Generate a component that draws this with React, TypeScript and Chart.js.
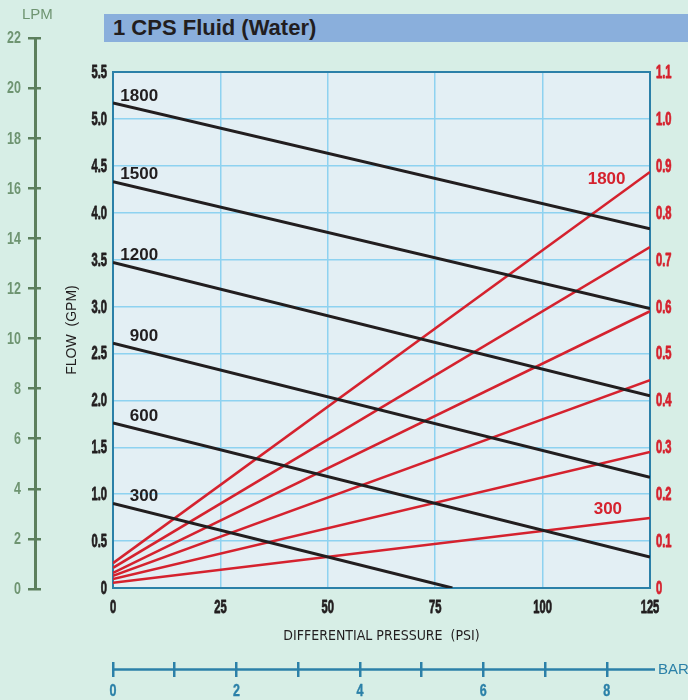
import React, { useEffect, useRef } from 'react';
import { Chart, registerables } from 'chart.js';

Chart.register(...registerables);

// ---------- data ----------
const PSI = [0, 125];
const PSI_300 = [0, 79];
const SPEEDS = ['1800', '1500', '1200', '900', '600', '300'];

// flow (GPM) vs differential pressure (PSI)
const FLOW_1800 = [5.17, 3.83];
const FLOW_1500 = [4.33, 2.98];
const FLOW_1200 = [3.47, 2.05];
const FLOW_900 = [2.61, 1.18];
const FLOW_600 = [1.76, 0.33];
const FLOW_300 = [0.9, 0];

// power (right axis) vs differential pressure (PSI)
const HP_1800 = [0.053, 0.887];
const HP_1500 = [0.043, 0.727];
const HP_1200 = [0.032, 0.59];
const HP_900 = [0.026, 0.443];
const HP_600 = [0.019, 0.29];
const HP_300 = [0.011, 0.149];

const RED_LABELS = ['1800', '300'];
const RED_LABEL_PSI = [119.3, 118.5];
const RED_LABEL_HP = [0.872, 0.168];
const BLACK_LABEL_PSI = 10.5;

const PSI_MAX = 125;
const GPM_MAX = 5.5;
const HP_MAX = 1.1;
const LPM_MAX = 22;
const BAR_MAX = 8.7;

// ---------- style ----------
const PAGE_BG = '#d7eee6';
const PLOT_BG = '#e3eff4';
const GRID = '#8ed2f0';
const TEAL = '#2b80a8';
const DARK = '#221e1f';
const RED = '#d5222e';
const GREEN_LINE = '#5c7f5d';
const GREEN_TEXT = '#6e9471';
const SANS = "'Liberation Sans', Arial, sans-serif";
const COND = "'DejaVu Sans Condensed', 'Liberation Sans', sans-serif";

const flowSets = [FLOW_1800, FLOW_1500, FLOW_1200, FLOW_900, FLOW_600, FLOW_300];
const hpSets = [HP_1800, HP_1500, HP_1200, HP_900, HP_600, HP_300];

const fmt1 = (v: number) => (v === 0 ? '0' : Number(v).toFixed(1));
const fmtInt = (v: number) => String(Math.round(v));
const fmtEven = (v: number) => (Math.round(v) % 2 === 0 ? String(Math.round(v)) : '');

// condensed tick label drawing (narrow display face as in the original print)
type TickStyle = {
  font: string;
  color: string;
  sx: number;
  heavy: number;
  align: CanvasTextAlign;
  fmt: (v: number) => string;
  pos: (scale: any, px: number) => [number, number];
};

function drawCondensedTicks(chart: any, styles: Record<string, TickStyle>) {
  const { ctx } = chart;
  Object.keys(styles).forEach((id) => {
    const scale = chart.scales[id];
    if (!scale) return;
    const st = styles[id];
    ctx.save();
    ctx.font = st.font;
    ctx.fillStyle = st.color;
    ctx.strokeStyle = st.color;
    ctx.lineWidth = st.heavy;
    ctx.lineJoin = 'round';
    ctx.textAlign = st.align;
    ctx.textBaseline = 'middle';
    scale.ticks.forEach((t: any) => {
      const txt = st.fmt(t.value);
      if (!txt) return;
      const [x, y] = st.pos(scale, scale.getPixelForValue(t.value));
      ctx.save();
      ctx.translate(x, y);
      ctx.scale(st.sx, 1);
      ctx.fillText(txt, 0, 0);
      if (st.heavy > 0) ctx.strokeText(txt, 0, 0);
      ctx.restore();
    });
    ctx.restore();
  });
}

const MAIN_TICKS: Record<string, TickStyle> = {
  y: {
    font: `bold 18px ${SANS}`, color: DARK, sx: 0.62, heavy: 0.8, align: 'right', fmt: fmt1,
    pos: (s, p) => [s.right - 6, p + 1],
  },
  y2: {
    font: `bold 18px ${SANS}`, color: RED, sx: 0.62, heavy: 0.8, align: 'left', fmt: fmt1,
    pos: (s, p) => [s.left + 6, p + 1],
  },
  x: {
    font: `bold 18px ${SANS}`, color: DARK, sx: 0.62, heavy: 0.8, align: 'center', fmt: fmtInt,
    pos: (s, p) => [p, s.top + 20],
  },
  x2: {
    font: `bold 16px ${SANS}`, color: TEAL, sx: 0.78, heavy: 0.4, align: 'center', fmt: fmtEven,
    pos: (s, p) => [p, s.top + 30],
  },
};

const LPM_TICKS: Record<string, TickStyle> = {
  y: {
    font: `bold 16px ${SANS}`, color: GREEN_TEXT, sx: 0.78, heavy: 0, align: 'right', fmt: fmtInt,
    pos: (s, p) => [s.right - 14, p + 1],
  },
};

export default function App() {
  const mainRef = useRef<HTMLCanvasElement>(null);
  const lpmRef = useRef<HTMLCanvasElement>(null);

  useEffect(() => {
    document.body.style.margin = '0';
    document.body.style.background = PAGE_BG;

    const datasets: any[] = [];
    flowSets.forEach((vals, i) => {
      const xs = i === 5 ? PSI_300 : PSI;
      datasets.push({
        label: SPEEDS[i] + ' GPM',
        data: xs.map((x, j) => ({ x, y: vals[j] })),
        borderColor: DARK,
        borderWidth: 3,
        pointRadius: 0,
        yAxisID: 'y',
        xAxisID: 'x',
      });
    });
    hpSets.forEach((vals, i) => {
      datasets.push({
        label: SPEEDS[i] + ' HP',
        data: PSI.map((x, j) => ({ x, y: vals[j] })),
        borderColor: RED,
        borderWidth: 2.5,
        pointRadius: 0,
        yAxisID: 'y2',
        xAxisID: 'x',
      });
    });

    const framePlugin = {
      id: 'framePlugin',
      beforeDraw(chart: any) {
        const { ctx, chartArea } = chart;
        const { left, top, right, bottom } = chartArea;
        ctx.save();
        ctx.fillStyle = PLOT_BG;
        ctx.fillRect(left, top, right - left, bottom - top);
        ctx.restore();
      },
      beforeDatasetsDraw(chart: any) {
        const { ctx, chartArea } = chart;
        const { left, top, right, bottom } = chartArea;
        ctx.save();
        ctx.strokeStyle = TEAL;
        ctx.lineWidth = 2;
        ctx.strokeRect(left, top, right - left, bottom - top);
        ctx.restore();
      },
      afterDatasetsDraw(chart: any) {
        const { ctx } = chart;
        const xs = chart.scales.x;
        const ys = chart.scales.y;
        const y2 = chart.scales.y2;
        ctx.save();
        ctx.font = `bold 17px ${SANS}`;
        ctx.textBaseline = 'middle';
        ctx.textAlign = 'right';
        ctx.fillStyle = DARK;
        flowSets.forEach((vals, i) => {
          ctx.fillText(SPEEDS[i], xs.getPixelForValue(BLACK_LABEL_PSI), ys.getPixelForValue(vals[0]) - 7);
        });
        ctx.fillStyle = RED;
        RED_LABELS.forEach((t, i) => {
          ctx.fillText(t, xs.getPixelForValue(RED_LABEL_PSI[i]), y2.getPixelForValue(RED_LABEL_HP[i]));
        });
        ctx.restore();
      },
      afterDraw(chart: any) {
        const { ctx } = chart;
        const b = chart.scales.x2;
        const yLine = b.top + 7.5;
        ctx.save();
        ctx.strokeStyle = TEAL;
        ctx.lineWidth = 2.5;
        ctx.beginPath();
        ctx.moveTo(b.getPixelForValue(0), yLine);
        ctx.lineTo(b.right + 5, yLine);
        ctx.stroke();
        ctx.fillStyle = TEAL;
        ctx.font = `15px ${SANS}`;
        ctx.textAlign = 'left';
        ctx.textBaseline = 'middle';
        ctx.fillText('BAR', b.right + 8, yLine);
        ctx.restore();
        drawCondensedTicks(chart, MAIN_TICKS);
      },
    };

    const main = new Chart(mainRef.current as HTMLCanvasElement, {
      type: 'line',
      data: { datasets },
      plugins: [framePlugin],
      options: {
        animation: false,
        responsive: false,
        maintainAspectRatio: false,
        layout: { padding: { left: 58, top: 72, right: 0, bottom: 0 } },
        plugins: { legend: { display: false }, tooltip: { enabled: false } },
        elements: { point: { radius: 0 }, line: { tension: 0 } },
        scales: {
          x: {
            type: 'linear',
            position: 'bottom',
            weight: 0,
            min: 0,
            max: PSI_MAX,
            ticks: { stepSize: 25, autoSkip: false, display: false },
            grid: { color: GRID, lineWidth: 1.5, drawTicks: false },
            border: { display: false },
            title: {
              display: true,
              text: 'DIFFERENTIAL PRESSURE  (PSI)',
              color: DARK,
              font: { family: COND, size: 14 },
              padding: { top: 17, bottom: 17 },
            },
            afterFit: (s: any) => {
              s.height = 74;
            },
          },
          x2: {
            type: 'linear',
            position: 'bottom',
            weight: 1,
            min: 0,
            max: BAR_MAX,
            ticks: { stepSize: 1, autoSkip: false, includeBounds: false, display: false },
            grid: { drawOnChartArea: false, drawTicks: true, tickLength: 15, color: TEAL, lineWidth: 2.5 },
            border: { display: false },
            afterFit: (s: any) => {
              s.height = 38;
            },
          },
          y: {
            type: 'linear',
            position: 'left',
            min: 0,
            max: GPM_MAX,
            ticks: { stepSize: 0.5, autoSkip: false, display: false },
            grid: { color: GRID, lineWidth: 1.5, drawTicks: false },
            border: { display: false },
            title: {
              display: true,
              text: 'FLOW  (GPM)',
              color: DARK,
              font: { family: SANS, size: 14 },
              padding: { top: 6, bottom: 0 },
            },
            afterFit: (s: any) => {
              s.width = 55;
            },
          },
          y2: {
            type: 'linear',
            position: 'right',
            min: 0,
            max: HP_MAX,
            ticks: { stepSize: 0.1, autoSkip: false, display: false },
            grid: { drawOnChartArea: false, drawTicks: false },
            border: { display: false },
            afterFit: (s: any) => {
              s.width = 38;
            },
          },
        },
      } as any,
    });

    const lpmPlugin = {
      id: 'lpmTicks',
      afterDraw(chart: any) {
        drawCondensedTicks(chart, LPM_TICKS);
      },
    };

    const lpm = new Chart(lpmRef.current as HTMLCanvasElement, {
      type: 'line',
      data: { datasets: [] },
      plugins: [lpmPlugin],
      options: {
        animation: false,
        responsive: false,
        maintainAspectRatio: false,
        layout: { padding: { left: 0, top: 38, right: 19, bottom: 111 } },
        plugins: { legend: { display: false }, tooltip: { enabled: false } },
        scales: {
          x: { display: false },
          y: {
            type: 'linear',
            position: 'left',
            min: 0,
            max: LPM_MAX,
            ticks: { stepSize: 2, autoSkip: false, display: false },
            grid: { color: GREEN_LINE, lineWidth: 2.5, tickLength: 7, drawOnChartArea: true },
            border: { color: GREEN_LINE, width: 3 },
            afterFit: (s: any) => {
              s.width = 35;
            },
          },
        },
      } as any,
    });

    return () => {
      main.destroy();
      lpm.destroy();
    };
  }, []);

  return (
    <div style={{ position: 'relative', width: 688, height: 700, background: PAGE_BG, overflow: 'hidden' }}>
      <canvas ref={mainRef} width={688} height={700} style={{ position: 'absolute', left: 0, top: 0 }} />
      <canvas ref={lpmRef} width={60} height={700} style={{ position: 'absolute', left: 0, top: 0 }} />
      <div
        style={{
          position: 'absolute',
          left: 22,
          top: 6,
          font: `15px ${SANS}`,
          lineHeight: '16px',
          color: GREEN_TEXT,
        }}
      >
        LPM
      </div>
      <div
        style={{
          position: 'absolute',
          left: 104,
          top: 14,
          width: 584,
          height: 28,
          background: '#8aafdc',
          color: DARK,
          font: `bold 22px ${SANS}`,
          lineHeight: '28px',
          paddingLeft: 9,
          boxSizing: 'border-box',
          whiteSpace: 'nowrap',
        }}
      >
        1 CPS Fluid (Water)
      </div>
    </div>
  );
}
